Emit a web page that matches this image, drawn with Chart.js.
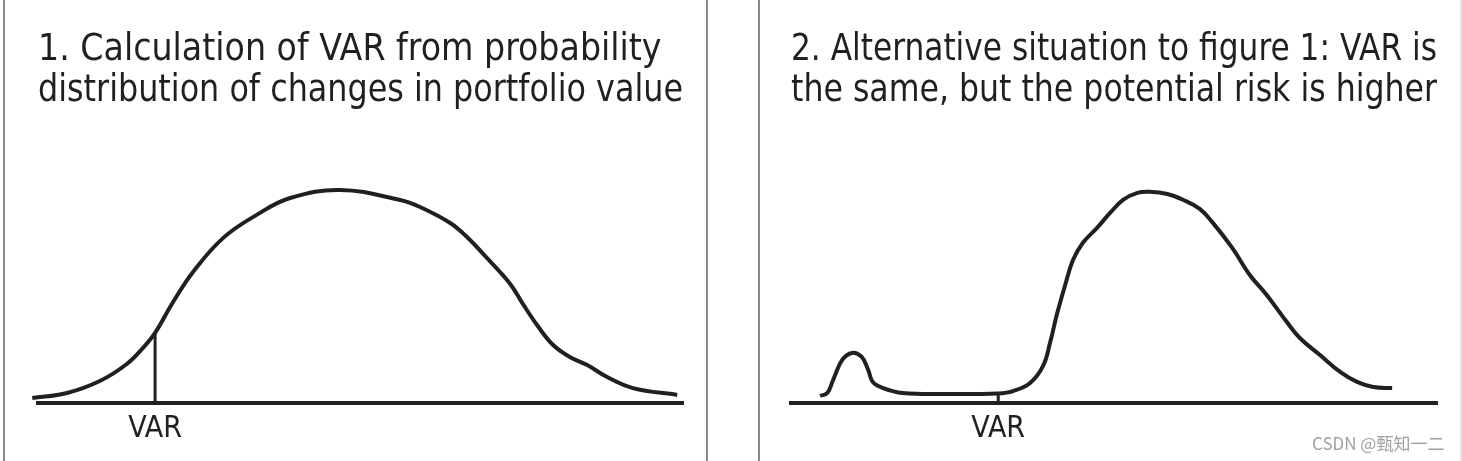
<!DOCTYPE html>
<html>
<head>
<meta charset="utf-8">
<script src="https://cdn.jsdelivr.net/npm/chart.js@4.4.1/dist/chart.umd.min.js"></script>
<style>
  html, body { margin: 0; padding: 0; background: #fff; }
  body { width: 1462px; height: 461px; position: relative; overflow: hidden; }
  .rule { position: absolute; top: 0; width: 2px; height: 461px; background: #8a8a8a; }
  .box { position: absolute; top: 0; height: 461px; }
  #wm { position: absolute; left: 1312px; top: 430px; font: 17px "Noto Sans CJK SC", sans-serif; color: #a0a0a0; }
</style>
</head>
<body>
<div class="rule" style="left:3px"></div>
<div class="rule" style="left:706px"></div>
<div class="rule" style="left:758px"></div>
<div class="rule" style="left:1460px;background:#e6e6e6"></div>
<div class="box" style="left:6px;width:700px"><canvas id="c1"></canvas></div>
<div class="box" style="left:761px;width:697px"><canvas id="c2"></canvas></div>
<div id="wm">CSDN @甄知一二</div>
<script>
const title1 = ['1. Calculation of VAR from probability', 'distribution of changes in portfolio value'];
const title2 = ['2. Alternative situation to figure 1: VAR is', 'the same, but the potential risk is higher'];
const varLabel = 'VAR';

// figure 1: change in portfolio value (x) against probability (y)
const fig1X = [-1.2, 4.2, 9.3, 13.5, 16.0, 17.9, 20.7, 23.8, 28.5, 33.7, 38.9, 46.7, 56.0, 59.1, 63.8, 66.4, 69.5, 73.1, 75.1, 77.3, 79.8, 82.4, 85.1, 88.2, 92.2, 99.1];
const fig1Y = [2.3, 4.7, 10.3, 18.3, 25.8, 32.9, 47.4, 61.5, 77.5, 88.3, 96.2, 100, 95.3, 92.0, 84.5, 77.9, 68.1, 56.0, 46.5, 36.6, 27.2, 21.6, 17.8, 12.2, 7.0, 3.8];
const fig1Var = 17.9;
const fig1VarTop = 33;

// figure 2: small loss hump, then the main distribution
const fig2X = [5.1, 6.2, 7.1, 8.5, 10.0, 11.5, 12.5, 13.2, 14.8, 17.8, 24.6, 32.5, 34.8, 37.4, 39.4, 40.5, 41.5, 42.8, 44.0, 45.5, 47.7, 49.7, 51.7, 53.9, 55.8, 58.5, 61.0, 63.5, 65.4, 68.5, 71.2, 73.8, 76.9, 78.9, 82.0, 85.1, 87.7, 90.2, 93.1];
const fig2Y = [3.3, 4.7, 10.8, 20.2, 23.5, 21.6, 15.5, 9.9, 7.0, 4.7, 4.2, 4.5, 5.6, 9.4, 17.4, 28.6, 41.3, 55.4, 67.1, 75.1, 82.2, 89.2, 95.3, 98.6, 99.1, 98.1, 95.3, 91.1, 85.0, 72.8, 60.1, 50.7, 38.0, 30.5, 22.5, 14.6, 9.9, 7.5, 7.0];
const fig2Var = 32.5;
const fig2VarTop = 4.5;

const ink = '#231f20';
const face = '"Liberation Sans Narrow", "DejaVu Sans Condensed", "Open Sans", sans-serif';

function makeChart(id, xs, ys, varX, varTop, title, xMin, pad) {
    return new Chart(document.getElementById(id), {
        type: 'line',
        data: {
            datasets: [
                {
                    data: xs.map((x, i) => ({ x: x, y: ys[i] })),
                    borderColor: ink,
                    borderWidth: 4,
                    pointRadius: 0,
                    tension: 0.4,
                    clip: false
                },
                {
                    data: [{ x: varX, y: 0 }, { x: varX, y: varTop }],
                    borderColor: ink,
                    borderWidth: 3,
                    pointRadius: 0,
                    clip: false
                }
            ]
        },
        options: {
            responsive: true,
            maintainAspectRatio: false,
            animation: false,
            layout: { padding: pad },
            plugins: {
                legend: { display: false },
                tooltip: { enabled: false },
                title: {
                    display: true,
                    text: title,
                    align: 'start',
                    color: ink,
                    font: { family: face, size: 37, weight: 'normal', lineHeight: 1.13 },
                    padding: { top: 29, bottom: 10 }
                }
            },
            scales: {
                x: {
                    type: 'linear',
                    min: xMin,
                    max: 100,
                    grid: { display: false },
                    border: { display: true, color: ink, width: 4 },
                    afterBuildTicks: (s) => { s.ticks = [{ value: varX }]; },
                    afterFit: (s) => { s.height = 58; },
                    ticks: {
                        autoSkip: false,
                        maxRotation: 0,
                        padding: 0,
                        color: ink,
                        font: { family: face, size: 30 },
                        callback: () => varLabel
                    }
                },
                y: { display: false, min: 0, max: 131.6 }
            }
        }
    });
}

makeChart('c1', fig1X, fig1Y, fig1Var, fig1VarTop, title1, -0.31, { left: 32, right: 23, top: 0, bottom: 0 });
makeChart('c2', fig2X, fig2Y, fig2Var, fig2VarTop, title2, 0.62, { left: 30, right: 21, top: 0, bottom: 0 });
</script>
</body>
</html>
